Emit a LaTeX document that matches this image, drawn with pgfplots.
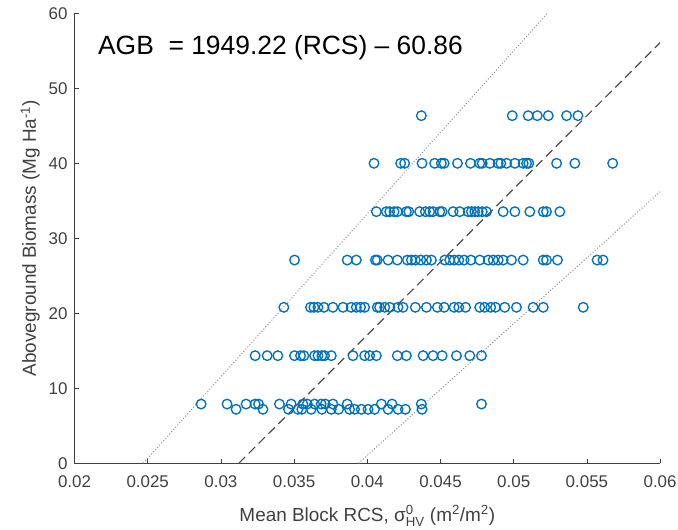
\documentclass[border=0pt]{standalone}
\usepackage{fontspec}
\setmainfont{Liberation Sans}
\usepackage{amsmath}
\usepackage{pgfplots}
\pgfplotsset{compat=1.18}
\usepackage{pgfplotstable}
\definecolor{mblue}{RGB}{0,114,189}
\definecolor{axgray}{RGB}{64,64,64}

\pgfplotstableread{
x y
0.04369 46.35
0.04990 46.35
0.05099 46.35
0.05161 46.35
0.05236 46.35
0.05361 46.35
0.05439 46.35
0.04046 40.0
0.04228 40.0
0.04255 40.0
0.04374 40.0
0.04460 40.0
0.04506 40.0
0.04525 40.0
0.04616 40.0
0.04705 40.0
0.04768 40.0
0.04785 40.0
0.04837 40.0
0.04894 40.0
0.04912 40.0
0.04951 40.0
0.05008 40.0
0.05065 40.0
0.05088 40.0
0.05103 40.0
0.05293 40.0
0.05418 40.0
0.05676 40.0
0.04062 33.55
0.04130 33.55
0.04153 33.55
0.04183 33.55
0.04205 33.55
0.04267 33.55
0.04283 33.55
0.04358 33.55
0.04397 33.55
0.04426 33.55
0.04449 33.55
0.04495 33.55
0.04511 33.55
0.04586 33.55
0.04631 33.55
0.04689 33.55
0.04711 33.55
0.04734 33.55
0.04757 33.55
0.04785 33.55
0.04814 33.55
0.04928 33.55
0.05008 33.55
0.05110 33.55
0.05202 33.55
0.05224 33.55
0.05315 33.55
0.03503 27.1
0.03863 27.1
0.03925 27.1
0.04055 27.1
0.04068 27.1
0.04142 27.1
0.04205 27.1
0.04274 27.1
0.04301 27.1
0.04328 27.1
0.04365 27.1
0.04404 27.1
0.04438 27.1
0.04529 27.1
0.04563 27.1
0.04593 27.1
0.04625 27.1
0.04661 27.1
0.04707 27.1
0.04768 27.1
0.04826 27.1
0.04860 27.1
0.04894 27.1
0.04928 27.1
0.04985 27.1
0.05065 27.1
0.05202 27.1
0.05224 27.1
0.05299 27.1
0.05570 27.1
0.05610 27.1
0.03430 20.8
0.03612 20.8
0.03635 20.8
0.03663 20.8
0.03704 20.8
0.03765 20.8
0.03834 20.8
0.03890 20.8
0.03925 20.8
0.03954 20.8
0.03982 20.8
0.04068 20.8
0.04084 20.8
0.04119 20.8
0.04153 20.8
0.04210 20.8
0.04244 20.8
0.04328 20.8
0.04404 20.8
0.04479 20.8
0.04525 20.8
0.04593 20.8
0.04625 20.8
0.04671 20.8
0.04768 20.8
0.04802 20.8
0.04843 20.8
0.04875 20.8
0.04939 20.8
0.05019 20.8
0.05133 20.8
0.05202 20.8
0.05475 20.8
0.03234 14.35
0.03316 14.35
0.03389 14.35
0.03503 14.35
0.03544 14.35
0.03567 14.35
0.03640 14.35
0.03663 14.35
0.03690 14.35
0.03708 14.35
0.03754 14.35
0.03902 14.35
0.03982 14.35
0.04016 14.35
0.04062 14.35
0.04205 14.35
0.04267 14.35
0.04381 14.35
0.04449 14.35
0.04511 14.35
0.04609 14.35
0.04700 14.35
0.04780 14.35
0.02865 7.9
0.03042 7.9
0.03172 7.9
0.03234 7.9
0.03257 7.9
0.03400 7.9
0.03480 7.9
0.03560 7.9
0.03590 7.9
0.03640 7.9
0.03685 7.9
0.03713 7.9
0.03765 7.9
0.03863 7.9
0.04096 7.9
0.04169 7.9
0.04369 7.9
0.04780 7.9
0.03104 7.2
0.03287 7.2
0.03462 7.2
0.03526 7.2
0.03553 7.2
0.03617 7.2
0.03690 7.2
0.03754 7.2
0.03804 7.2
0.03879 7.2
0.03913 7.2
0.03959 7.2
0.04005 7.2
0.04050 7.2
0.04142 7.2
0.04210 7.2
0.04260 7.2
0.04374 7.2
}\datatable

\begin{document}
\begin{tikzpicture}
\begin{axis}[
  scale only axis, width=585.6bp, height=450bp,
  xmin=0.02, xmax=0.06, ymin=0, ymax=60,
  axis x line=bottom, axis y line=left,
  axis line style={-, draw=axgray, line width=0.8bp},
  x axis line style={-}, y axis line style={-},
  tick align=inside, major tick length=4.5bp,
  tick style={draw=axgray, line width=0.8bp},
  scaled x ticks=false, scaled y ticks=false,
  xtick={0.02,0.025,0.03,0.035,0.04,0.045,0.05,0.055,0.06},
  xticklabels={0.02,0.025,0.03,0.035,0.04,0.045,0.05,0.055,0.06},
  ytick={0,10,20,30,40,50,60},
  yticklabels={0,10,20,30,40,50,60},
  ticklabel style={font=\fontsize{17}{20}\selectfont, text=axgray},
  xticklabel style={yshift=-8.5bp},
  yticklabel style={xshift=-3.5bp},
  every axis x label/.style={at={(axis description cs:0.5,0)}, yshift=-57.7bp, anchor=base, font=\fontsize{19}{22}\selectfont, text=axgray},
  every axis y label/.style={at={(axis description cs:0,0.5)}, xshift=-38.5bp, anchor=base, rotate=90, font=\fontsize{19}{22}\selectfont, text=axgray},
  xlabel={Mean Block RCS, σ$^{\text{0}}_{\text{HV}}$ (m$^{\text{2}}$/m$^{\text{2}}$)},
  ylabel={Aboveground Biomass (Mg Ha$^{\text{-1}}$)},
]
\addplot[only marks, mark=o, mark size=4.8bp, mblue, mark options={line width=1.35bp}] table[x=x,y=y] {\datatable};
\addplot[draw=black!45, line width=1bp, dash pattern=on 1bp off 2bp] coordinates {(0.0247,0) (0.0523,60)};
\addplot[draw=black!45, line width=1bp, dash pattern=on 1bp off 2bp] coordinates {(0.0394,0) (0.06,36.2)};
\addplot[draw=black!70, line width=1.2bp, dash pattern=on 9bp off 5bp] coordinates {(0.031223,0) (0.06,56.09)};
\node[anchor=base west, inner sep=0, font=\fontsize{26.5}{30}\selectfont] at (axis cs:0.0216,54.44) {AGB\ \ = 1949.22 (RCS) -- 60.86};
\end{axis}
\pgfresetboundingbox
\path (current axis.south west) ++(-74.5bp,-66.7bp) rectangle ++(678bp,530bp);
\end{tikzpicture}
\end{document}
